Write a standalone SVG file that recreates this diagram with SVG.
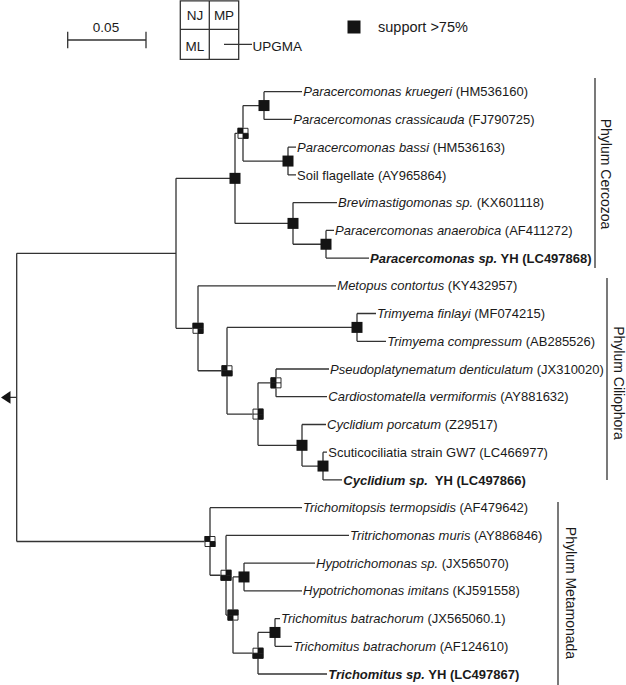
<svg xmlns="http://www.w3.org/2000/svg" xmlns:xlink="http://www.w3.org/1999/xlink" width="626" height="685" viewBox="0 0 626 685">
<style>
.ln{fill:none;stroke:#333;stroke-width:1.3}
.t{font-family:"Liberation Sans",Arial,sans-serif;font-size:13px;fill:#1a1a1a}
.lg{font-family:"Liberation Sans",Arial,sans-serif;font-size:13.5px;fill:#1a1a1a}
.ph{font-family:"Liberation Sans",Arial,sans-serif;font-size:14px;fill:#1a1a1a}
.i{font-style:italic}
.b{font-weight:bold}
.bk{fill:#141414}
.wh{fill:#fff}
.ol{fill:none;stroke:#141414;stroke-width:0.9}
</style>
<defs>
<rect id="full" class="bk" x="-5.5" y="-5.5" width="11" height="11"/>
<rect id="bg" class="wh" x="-5.5" y="-5.5" width="11" height="11"/>
<rect id="tl" class="bk" x="-5.5" y="-5.5" width="5.5" height="5.5"/>
<rect id="tr" class="bk" x="0" y="-5.5" width="5.5" height="5.5"/>
<rect id="bl" class="bk" x="-5.5" y="0" width="5.5" height="5.5"/>
<rect id="br" class="bk" x="0" y="0" width="5.5" height="5.5"/>
<path id="grid" class="ol" d="M-5,-5H5V5H-5Z M0,-5V5 M-5,0H5"/>
</defs>

<g id="legend">
<path class="ln" d="M67.7,40H146 M67.7,31.7V48.3 M146,31.7V48.3"/>
<text class="lg" x="106" y="31.5" text-anchor="middle">0.05</text>
<path class="ln" d="M180.3,0.8H238.7V59.3H180.3Z M209.3,0.8V59.3 M180.3,29.3H238.7 M224,44.3H252"/>
<text class="lg" x="195" y="20.3" text-anchor="middle">NJ</text>
<text class="lg" x="224" y="20.3" text-anchor="middle">MP</text>
<text class="lg" x="195" y="50.5" text-anchor="middle">ML</text>
<text class="lg" x="252.5" y="50.5">UPGMA</text>
<rect class="bk" x="347.5" y="20.5" width="13" height="13"/>
<text class="ph" x="378" y="32" style="font-size:14.5px">support &gt;75%</text>
</g>

<g id="connectors" class="ln">
<path d="M10,397.4H16.7 M16.7,253.3V541.5 M16.7,253.3H176 M16.7,541.5H210"/>
<path d="M176,178.35V328.3 M176,178.35H235 M176,328.3H198"/>
<path d="M235,133.3V223.4 M235,133.3H243 M235,223.4H293"/>
<path d="M243,105.55V161.05 M243,105.55H264 M243,161.05H288"/>
<path d="M264,91.7V119.4 M264,91.7H302 M264,119.4H292"/>
<path d="M288,147.2V174.9 M288,147.2H296 M288,174.9H296"/>
<path d="M293,202.6V244.25 M293,202.6H337 M293,244.25H326"/>
<path d="M326,230.4V258.1 M326,230.4H334 M326,258.1H369"/>
<path d="M198,285.8V370.75 M198,285.8H336 M198,370.75H227"/>
<path d="M227,327.4V414.1 M227,327.4H357 M227,414.1H258"/>
<path d="M357,313.5V341.3 M357,313.5H376 M357,341.3H386"/>
<path d="M258,382.85V445.3 M258,382.85H276 M258,445.3H302"/>
<path d="M276,369V396.7 M276,369H329 M276,396.7H327"/>
<path d="M302,424.5V466.05 M302,424.5H326 M302,466.05H323"/>
<path d="M323,452.2V479.9 M323,452.2H327 M323,479.9H342"/>
<path d="M210,507.7V575.25 M210,507.7H302 M210,575.25H226"/>
<path d="M226,535.4V615.1 M226,535.4H349 M226,615.1H233"/>
<path d="M233,576.95V653.2 M233,576.95H244 M233,653.2H258"/>
<path d="M244,563.1V590.8 M244,563.1H315 M244,590.8H302"/>
<path d="M258,632.45V674 M258,632.45H275 M258,674H327"/>
<path d="M275,618.6V646.3 M275,618.6H280 M275,646.3H292"/>
<path d="M595,78V268 M607,278V480 M558,502V685"/>
</g>
<path id="root-arrow" class="bk" d="M1,397.4L10.5,391V403.8Z"/>

<g id="nodes">
<g id="node-A" transform="translate(235,178.35)"><use xlink:href="#full"/></g>
<g id="node-B" transform="translate(243,133.3)"><use xlink:href="#bg"/><use xlink:href="#tl"/><use xlink:href="#br"/><use xlink:href="#grid"/></g>
<g id="node-C" transform="translate(264,105.55)"><use xlink:href="#full"/></g>
<g id="node-D" transform="translate(288,161.05)"><use xlink:href="#full"/></g>
<g id="node-E" transform="translate(293,223.4)"><use xlink:href="#full"/></g>
<g id="node-F" transform="translate(326,244.25)"><use xlink:href="#full"/></g>
<g id="node-G" transform="translate(198,328.3)"><use xlink:href="#bg"/><use xlink:href="#tl"/><use xlink:href="#tr"/><use xlink:href="#br"/><use xlink:href="#grid"/></g>
<g id="node-H" transform="translate(227,370.75)"><use xlink:href="#bg"/><use xlink:href="#tl"/><use xlink:href="#bl"/><use xlink:href="#br"/><use xlink:href="#grid"/></g>
<g id="node-I" transform="translate(357,327.4)"><use xlink:href="#full"/></g>
<g id="node-J" transform="translate(258,414.1)"><use xlink:href="#bg"/><use xlink:href="#tr"/><use xlink:href="#br"/><use xlink:href="#grid"/></g>
<g id="node-K" transform="translate(276,382.85)"><use xlink:href="#bg"/><use xlink:href="#tl"/><use xlink:href="#bl"/><use xlink:href="#grid"/></g>
<g id="node-L" transform="translate(302,445.3)"><use xlink:href="#full"/></g>
<g id="node-M" transform="translate(323,466.05)"><use xlink:href="#full"/></g>
<g id="node-N" transform="translate(210,541.5)"><use xlink:href="#bg"/><use xlink:href="#tl"/><use xlink:href="#br"/><use xlink:href="#grid"/></g>
<g id="node-O" transform="translate(226,575.25)"><use xlink:href="#bg"/><use xlink:href="#tr"/><use xlink:href="#bl"/><use xlink:href="#br"/><use xlink:href="#grid"/></g>
<g id="node-P" transform="translate(233,615.1)"><use xlink:href="#bg"/><use xlink:href="#tl"/><use xlink:href="#tr"/><use xlink:href="#bl"/><use xlink:href="#grid"/></g>
<g id="node-Q" transform="translate(244,576.95)"><use xlink:href="#full"/></g>
<g id="node-R" transform="translate(258,653.2)"><use xlink:href="#bg"/><use xlink:href="#tr"/><use xlink:href="#bl"/><use xlink:href="#br"/><use xlink:href="#grid"/></g>
<g id="node-S" transform="translate(275,632.45)"><use xlink:href="#full"/></g>
</g>

<g id="leaves" class="t">
<g id="leaf-1"><text x="303.3" y="96.3"><tspan class="i">Paracercomonas kruegeri</tspan> (HM536160)</text></g>
<g id="leaf-2"><text x="293.3" y="124"><tspan class="i">Paracercomonas crassicauda</tspan> (FJ790725)</text></g>
<g id="leaf-3"><text x="297" y="151.8"><tspan class="i">Paracercomonas bassi</tspan> (HM536163)</text></g>
<g id="leaf-4"><text x="297" y="179.5">Soil flagellate (AY965864)</text></g>
<g id="leaf-5"><text x="338" y="207.2"><tspan class="i">Brevimastigomonas sp.</tspan> (KX601118)</text></g>
<g id="leaf-6"><text x="335" y="235"><tspan class="i">Paracercomonas anaerobica</tspan> (AF411272)</text></g>
<g id="leaf-7"><text x="370" y="262.7" class="b"><tspan class="i">Paracercomonas sp.</tspan> YH (LC497868)</text></g>
<g id="leaf-8"><text x="337.3" y="290.4"><tspan class="i">Metopus contortus</tspan> (KY432957)</text></g>
<g id="leaf-9"><text x="377" y="318.1"><tspan class="i">Trimyema finlayi</tspan> (MF074215)</text></g>
<g id="leaf-10"><text x="387.3" y="345.9"><tspan class="i">Trimyema compressum</tspan> (AB285526)</text></g>
<g id="leaf-11"><text x="330" y="373.6"><tspan class="i">Pseudoplatynematum denticulatum</tspan> (JX310020)</text></g>
<g id="leaf-12"><text x="328.3" y="401.3"><tspan class="i">Cardiostomatella vermiformis</tspan> (AY881632)</text></g>
<g id="leaf-13"><text x="327" y="429.1"><tspan class="i">Cyclidium porcatum</tspan> (Z29517)</text></g>
<g id="leaf-14"><text x="328.3" y="456.8">Scuticociliatia strain GW7 (LC466977)</text></g>
<g id="leaf-15"><text x="343.3" y="484.5" class="b"><tspan class="i">Cyclidium sp.</tspan>&#160; YH (LC497866)</text></g>
<g id="leaf-16"><text x="303" y="512.3"><tspan class="i">Trichomitopsis termopsidis</tspan> (AF479642)</text></g>
<g id="leaf-17"><text x="350" y="540"><tspan class="i">Tritrichomonas muris</tspan> (AY886846)</text></g>
<g id="leaf-18"><text x="316" y="567.7"><tspan class="i">Hypotrichomonas sp.</tspan> (JX565070)</text></g>
<g id="leaf-19"><text x="303" y="595.4"><tspan class="i">Hypotrichomonas imitans</tspan> (KJ591558)</text></g>
<g id="leaf-20"><text x="281" y="623.2"><tspan class="i">Trichomitus batrachorum</tspan> (JX565060.1)</text></g>
<g id="leaf-21"><text x="293.3" y="650.9"><tspan class="i">Trichomitus batrachorum</tspan> (AF124610)</text></g>
<g id="leaf-22"><text x="328.3" y="678.6" class="b"><tspan class="i">Trichomitus sp.</tspan> YH (LC497867)</text></g>
</g>

<g id="clades" class="ph">
<text transform="translate(601,174) rotate(90)" text-anchor="middle">Phylum Cercozoa</text>
<text transform="translate(613.5,383) rotate(90)" text-anchor="middle">Phylum Ciliophora</text>
<text transform="translate(566,593) rotate(90)" text-anchor="middle">Phylum Metamonada</text>
</g>
</svg>
